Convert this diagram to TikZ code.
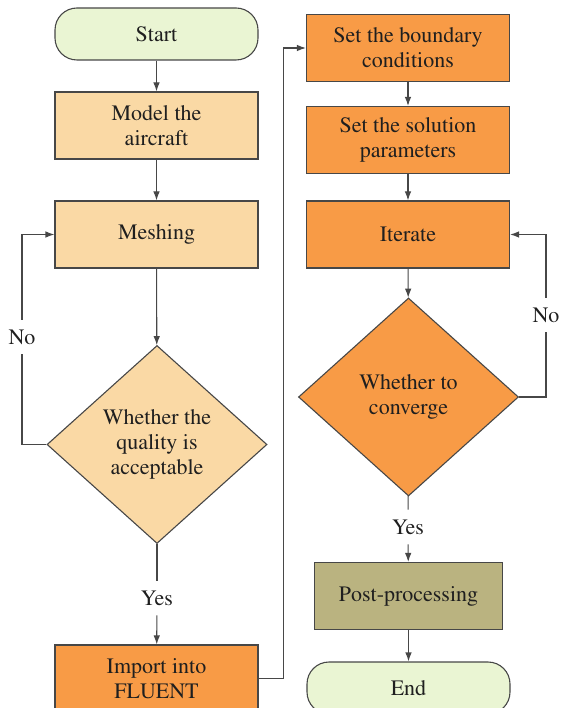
\documentclass[tikz,border=0pt]{standalone}
\usepackage[T1]{fontenc}
\usepackage{times}
\usetikzlibrary{shapes.geometric,arrows.meta}
\definecolor{termgreen}{RGB}{234,245,211}
\definecolor{peach}{RGB}{250,217,165}
\definecolor{orangebox}{RGB}{248,155,70}
\definecolor{olivebox}{RGB}{186,179,128}
\begin{document}
\begin{tikzpicture}[x=1pt,y=-1pt,
  every node/.style={font=\fontsize{22}{25}\selectfont, text=black!88, align=center},
  conn/.style={draw=black!72, line width=1.1pt},
  arr/.style={conn, -{Latex[length=9pt,width=6.5pt]}},
  termbox/.style={conn, fill=termgreen, rounded corners=22pt, minimum width=203pt, minimum height=52pt, inner sep=0pt},
  procbox/.style={conn, minimum width=203pt, minimum height=67pt, inner sep=0pt},
  decbox/.style={conn, diamond, minimum width=220pt, minimum height=198pt, inner sep=0pt},
  lbl/.style={inner xsep=3pt, inner ysep=10pt}]
\path[use as bounding box, clip] (0,0) rectangle (563,708);
% left column
\node[termbox] (start) at (156.5,34) {Start};
\node[procbox, fill=peach] (model) at (156.5,125.5) {Model the\\aircraft};
\node[procbox, fill=peach] (mesh) at (156.5,234.5) {Meshing};
\node[decbox, fill=peach] (qual) at (157,444.5) {Whether the\\quality is\\acceptable};
\node[lbl] (yes1) at (157,598) {Yes};
\node[lbl] (no1) at (22,337) {No};
\node[procbox, fill=orangebox] (import) at (156.5,678.5) {Import into\\FLUENT};
% right column
\node[procbox, fill=orangebox] (bound) at (408,48) {Set the boundary\\conditions};
\node[procbox, fill=orangebox] (solu) at (408,140) {Set the solution\\parameters};
\node[procbox, fill=orangebox] (iter) at (408,234.5) {Iterate};
\node[decbox, fill=orangebox] (conv) at (408.5,397) {Whether to\\converge};
\node[lbl] (yes2) at (408,527) {Yes};
\node[lbl] (no2) at (546,315) {No};
\node[procbox, fill=olivebox, minimum width=188pt] (post) at (408.5,596) {Post-processing};
\node[termbox] (end) at (408.5,688) {End};

\draw[arr] (start) -- (model);
\draw[arr] (model) -- (mesh);
\draw[arr] (mesh) -- (qual);
\draw[conn] (qual.west) -| (no1);
\draw[arr] (no1) |- (mesh.west);
\draw[conn] (qual) -- (yes1);
\draw[arr] (yes1) -- (import);
\draw[arr] (import.east) -- ++(25,0) |- (bound.west);
\draw[arr] (bound) -- (solu);
\draw[arr] (solu) -- (iter);
\draw[arr] (iter) -- (conv);
\draw[conn] (conv.east) -| (no2);
\draw[arr] (no2) |- (iter.east);
\draw[conn] (conv) -- (yes2);
\draw[arr] (yes2) -- (post);
\draw[arr] (post) -- (end);
\end{tikzpicture}
\end{document}
